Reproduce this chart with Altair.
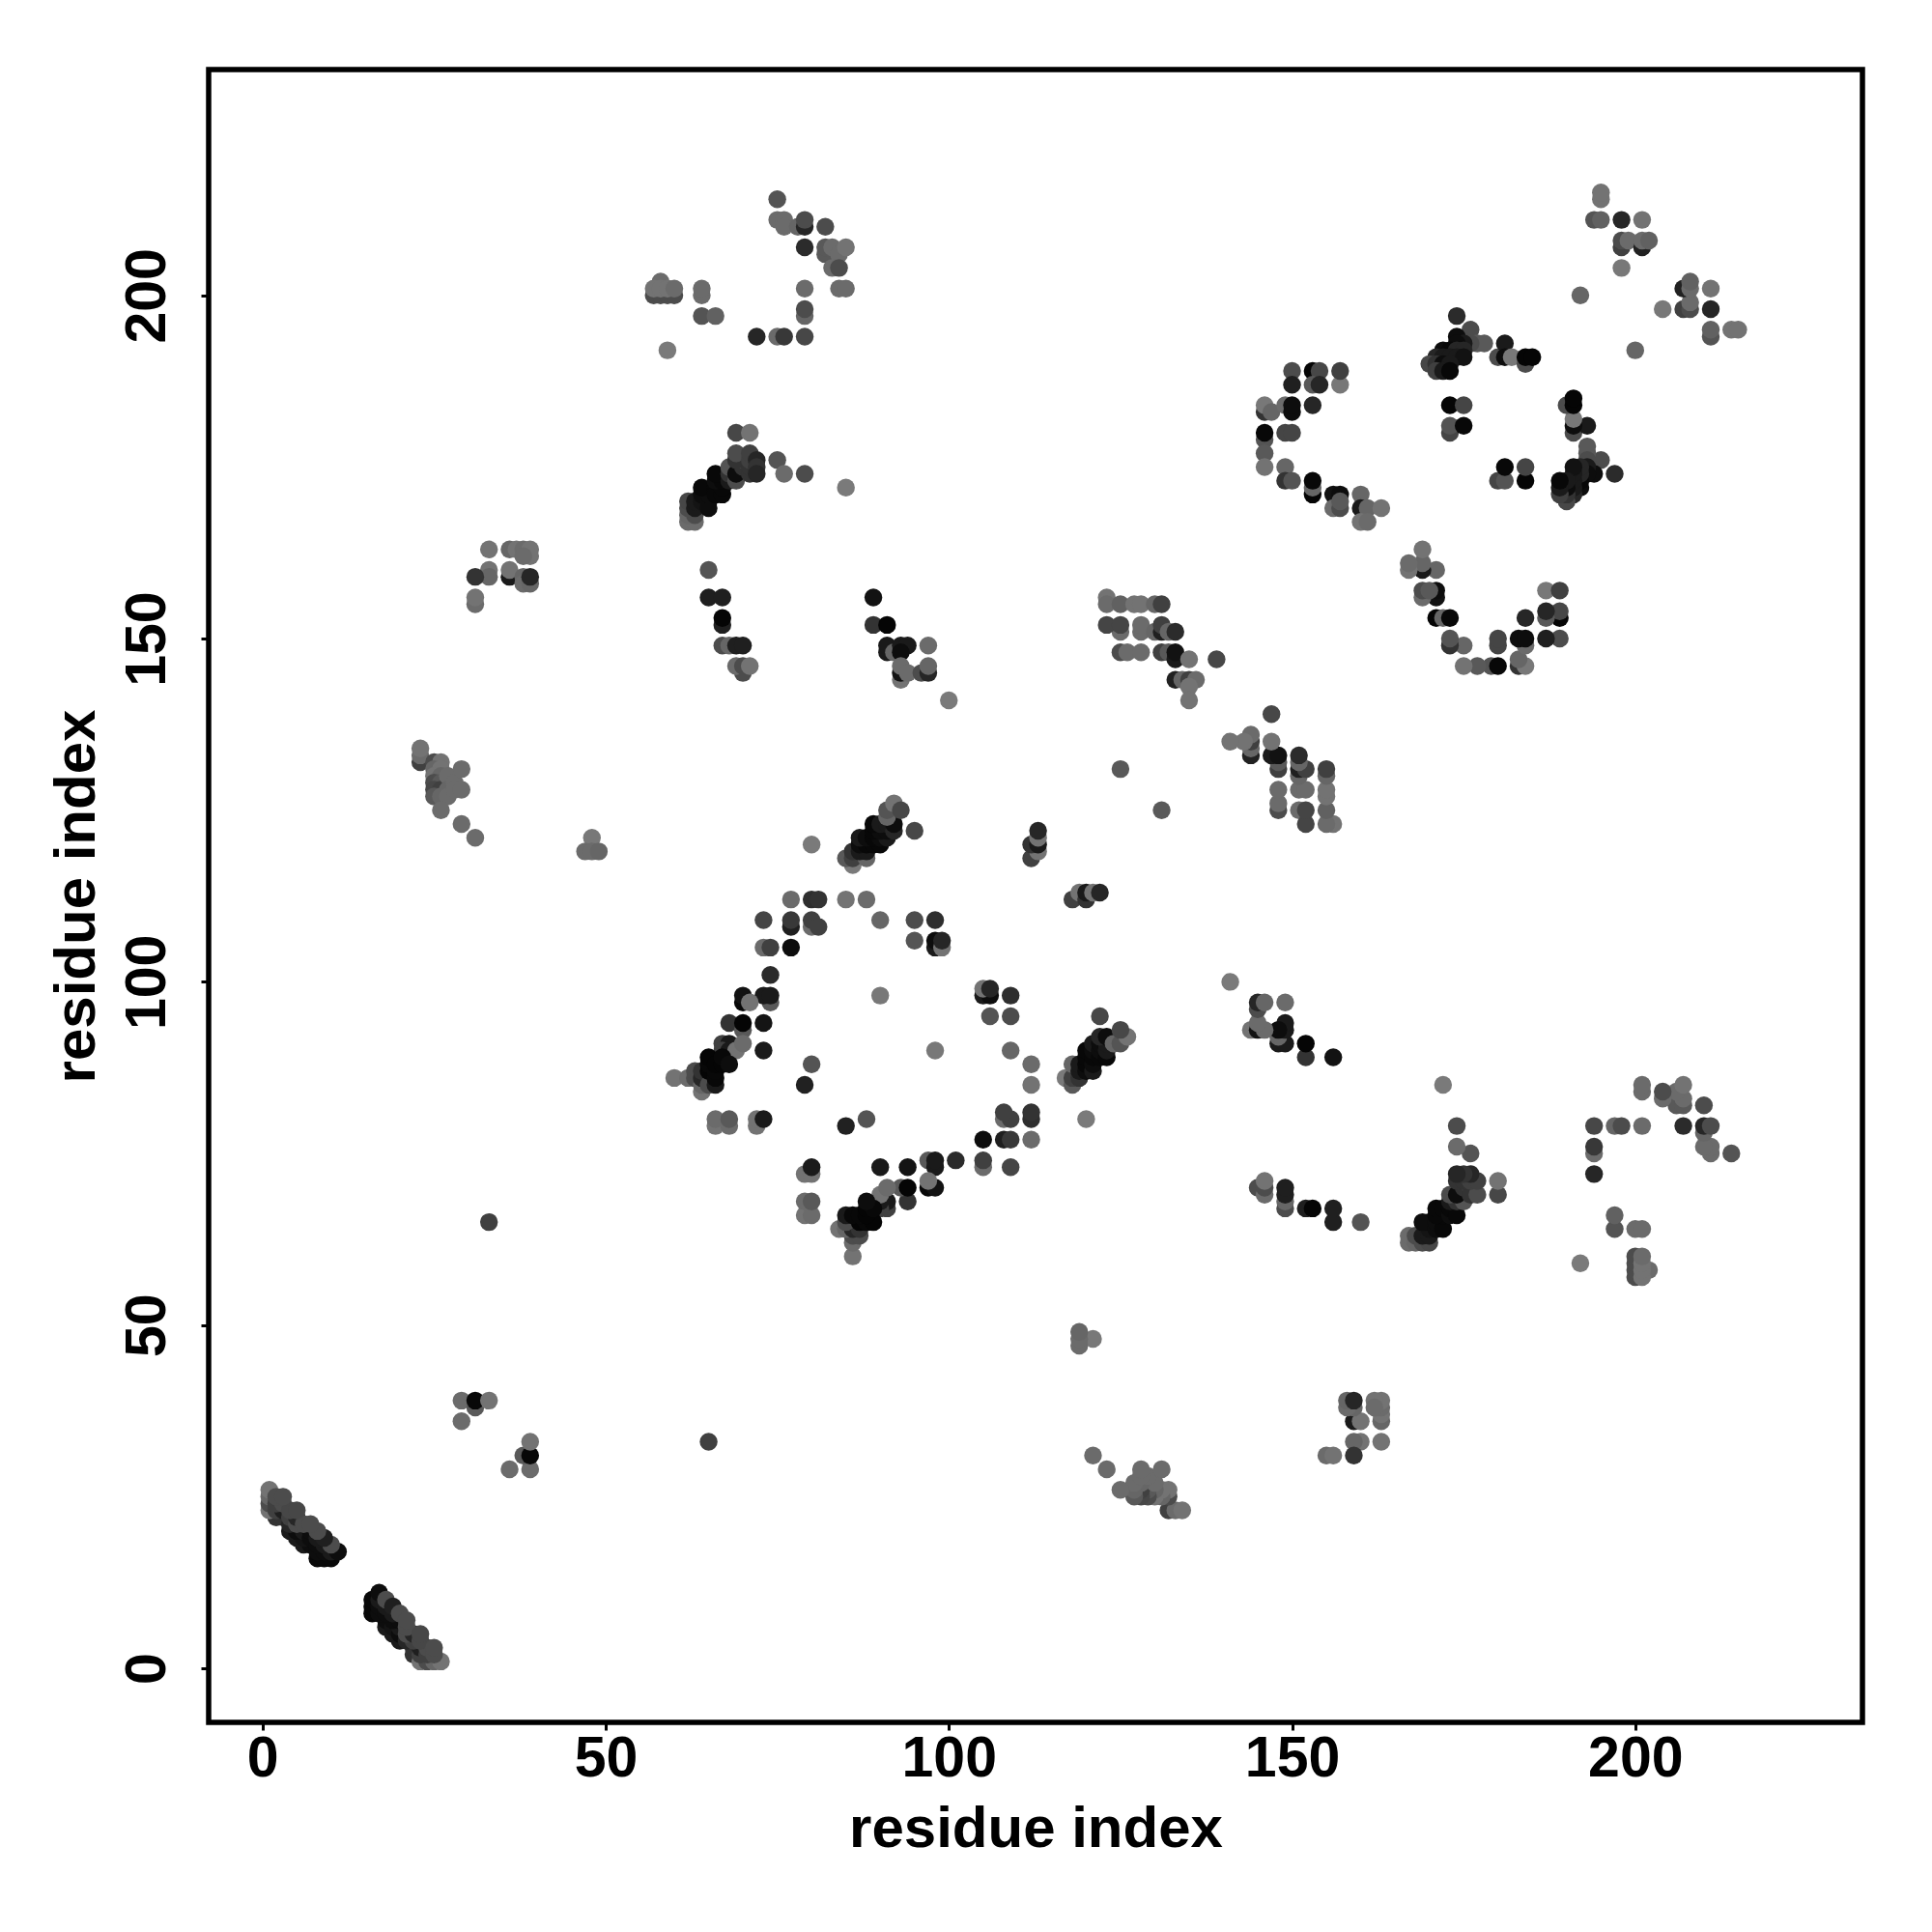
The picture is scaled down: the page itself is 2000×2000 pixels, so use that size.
import altair as alt
import pandas as pd

# contacts (i, j, gray level) read with i < j; the map is symmetric
helix_a = [(8,16,.03),(9,16,.03),(10,16,.03),(6,18,.1),(7,18,.05),(8,17,.05),(9,17,.05),(10,17,.1),(4,20,.1),(5,19,.1),(6,19,.08),(5,20,.05),(2,22,.2),(3,22,.2),
           (1,23,.45),(4,21,.15),(6,20,.1),(7,19,.05),(8,18,.05),(9,18,.1),(11,17,.05),(1,24,.3),(2,23,.25),(3,23,.12),(4,22,.25),(5,21,.3),(7,20,.05),(8,19,.1),(10,18,.3),
           (9,19,.12),(1,25,.4),(2,24,.25),(5,22,.15),(6,21,.3),(8,20,.3),(7,21,.3),(3,24,.3),(4,23,.28),(5,23,.28),(1,26,.45),(2,25,.3),(3,25,.3)]
group_30s = [(29,39,.42),(31,38,.35),(31,39,.03),(33,39,.45),(29,36,.42),(33,65,.25)]
group_160 = [(33,163,.45),(36,163,.4),(37,163,.45),(38,163,.42),(39,163,.45),(39,162,.45),(38,162,.42),(33,160,.45),(33,159,.4),(31,159,.2),
             (36,159,.1),(36,160,.45),(38,159,.4),(38,158,.42),(39,158,.4),(39,159,.15),(31,155,.42),(31,156,.45)]
group_130 = [(23,132,.25),(23,133,.42),(23,134,.45),(25,132,.3),(26,132,.45),(25,131,.4),(26,131,.45),(25,130,.45),(26,130,.4),(25,129,.3),(26,129,.35),
             (25,128,.28),(26,128,.25),(25,127,.35),(26,127,.4),(27,130,.42),(27,128,.4),(27,127,.42),(28,129,.42),(28,128,.42),(29,131,.42),(29,128,.42),
             (26,125,.42),(29,123,.42),(31,121,.42),(48,121,.47),(47,119,.42),(48,119,.42),(49,119,.4)]
group_200 = [(57,200,.3),(58,200,.3),(59,200,.3),(60,200,.3),(58,202,.42),(57,201,.45),(58,201,.45),(59,201,.45),(60,201,.42),(64,200,.42),(64,201,.42),
             (64,197,.33),(66,197,.38),(59,192,.48),(75,214,.33),(75,211,.42),(76,211,.42),(76,210,.42),(78,210,.4),(79,210,.15),(79,211,.3),(82,210,.3),
             (79,207,.17),(82,206,.35),(82,207,.35),(83,207,.42),(84,206,.42),(85,207,.45),(83,204,.42),(84,204,.3),(79,201,.42),(84,201,.42),(85,201,.42),
             (79,197,.4),(79,198,.3),(72,194,.15),(75,194,.42),(76,194,.22),(79,194,.28)]
group_170 = [(69,180,.28),(71,180,.45),(62,167,.42),(63,167,.42),(62,168,.4),(63,168,.3),(62,169,.3),(62,170,.28),(63,169,.1),(63,170,.1),(64,170,.08),(65,170,.05),(65,169,.05),
             (64,171,.05),(65,171,.05),(64,172,.03),(66,172,.03),(66,171,.03),(67,171,.03),(67,172,.03),(66,173,.05),(67,173,.03),(66,174,.03),(68,173,.1),(68,174,.2),(68,175,.33),(69,173,.3),(69,174,.05),
             (70,175,.2),(70,176,.25),(69,176,.2),(69,177,.3),(71,174,.2),(71,175,.2),(71,176,.25),(71,177,.25),(72,176,.15),(72,175,.2),(72,174,.15),(75,176,.33),(76,174,.42),(79,174,.3),(85,172,.48)]
group_150 = [(65,160,.33),(65,156,.12),(67,156,.12),(67,152,.12),(67,153,.02),(67,149,.3),(68,149,.4),(69,149,.12),(70,149,.12),(70,145,.3),(69,146,.42),
             (70,146,.3),(71,146,.45),(89,156,.07),(89,152,.2),(91,152,.02),(91,148,.1),(91,149,.1),(92,148,.4),(93,149,.1),(94,149,.1),(93,148,.05),(97,149,.42),
             (93,144,.45),(93,145,.07),(93,146,.42),(94,145,.42),(96,145,.3),(97,145,.15),(97,146,.4),(100,141,.48)]
group_100 = [(77,112,.42),(80,112,.18),(81,112,.2),(85,112,.45),(88,112,.42),(73,109,.27),(77,108,.12),(77,109,.22),(80,108,.42),(80,109,.25),(81,108,.25),
             (73,105,.42),(74,105,.25),(77,105,.05),(74,101,.17),(74,97,.35),(73,98,.1),(74,98,.1),(70,97,.03),(70,98,.07),(71,97,.45),(90,98,.47),
             (68,94,.2),(70,93,.35),(70,94,.02),(73,94,.08),(67,91,.25),(68,91,.1),(67,90,.25),(68,90,.1),(69,90,.45),(70,91,.42),(73,90,.1),(80,88,.33),(79,85,.13),
             (60,86,.45),(62,86,.42),(63,86,.3),(63,87,.3),(64,84,.45),(64,85,.4),(64,86,.15),(64,87,.2),(65,85,.3),(65,87,.02),(65,88,.03),(65,89,.02),(66,85,.1),(66,86,.03),(66,87,.03),(66,88,.02),(67,88,.02),(67,89,.03),(68,88,.05),
             (66,79,.45),(66,80,.42),(68,79,.42),(68,80,.35),(72,79,.45),(72,80,.45),(73,80,.1)]
group_120 = [(86,117,.48),(85,118,.35),(86,118,.25),(88,118,.4),(86,119,.2),(87,119,.1),(88,119,.1),(87,120,.05),(88,120,.03),(89,120,.03),(90,120,.03),(87,121,.1),(88,121,.05),(89,121,.03),(90,121,.05),(91,121,.1),
             (89,122,.03),(90,122,.05),(91,122,.05),(89,123,.03),(90,123,.1),(91,123,.1),(92,122,.15),(92,123,.05),(91,124,.4),(91,125,.33),(92,126,.45),(93,125,.28),(95,122,.28),(80,120,.48),
             (112,118,.25),(113,119,.45),(112,120,.2),(113,120,.1),(113,121,.45),(113,122,.15),(125,131,.35)]
group_109 = [(90,109,.4),(95,109,.3),(98,109,.18),(95,106,.33),(98,105,.1),(98,106,.05),(99,105,.45),(99,106,.15)]
group_155 = [(123,156,.45),(123,155,.42),(125,155,.38),(127,155,.45),(128,155,.45),(130,155,.4),(131,155,.25),(125,151,.42),(123,152,.27),(125,152,.27),(128,151,.42),(128,152,.42),
             (130,151,.4),(131,151,.12),(131,152,.25),(132,151,.4),(133,151,.17),(125,148,.3),(126,148,.42),(128,148,.42),(131,148,.25),(132,148,.35),(133,147,.1),(133,148,.07),
             (135,147,.45),(139,147,.28),(133,144,.13),(134,144,.4),(135,144,.25),(136,144,.42),(135,143,.45),(135,141,.45)]
group_180 = [(150,189,.3),(150,187,.12),(153,189,.02),(154,189,.28),(157,187,.47),(157,189,.25),(153,187,.35),(154,187,.15),(146,183,.2),(146,184,.47),(147,183,.4),
             (149,184,.42),(150,183,.05),(150,184,.05),(153,184,.15),(146,179,.33),(146,180,.03),(146,177,.35),(146,175,.45),(149,180,.27),(150,180,.27),(149,175,.4),
             (149,173,.2),(150,173,.33),(153,171,.02),(153,172,.4),(153,173,.03),(156,171,.07),(157,171,.05),(156,169,.42),(157,169,.3),(157,170,.35),
             (160,171,.4),(160,169,.1),(161,169,.4),(163,169,.45),(160,167,.45),(161,167,.42)]
group_190 = [(174,197,.17),(176,195,.3),(174,194,.05),(177,193,.35),(178,193,.35),(176,193,.3),(175,193,.1),(174,193,.05),(172,192,.05),(173,192,.03),(174,192,.15),(175,192,.15),(171,191,.15),(172,191,.1),(173,191,.1),(174,191,.1),(175,191,.07),
             (170,190,.28),(171,190,.2),(172,190,.05),(173,190,.1),(171,189,.25),(172,189,.1),(173,189,.03),(180,191,.3),(181,193,.1),(181,191,.05),(182,191,.47),(184,190,.3),(184,191,.02),(185,191,.02),
             (173,180,.27),(173,181,.33),(175,181,.03),(173,184,.02),(175,184,.27)]
group_210 = [(195,214,.45),(195,215,.45),(194,211,.33),(195,211,.38),(198,211,.15),(201,211,.45),(198,207,.25),(198,208,.3),(199,208,.42),(201,207,.13),(201,208,.42),(202,208,.38),(198,204,.47),(192,200,.4)]

contacts = (helix_a + group_30s + group_160 + group_130 + group_200 + group_170 + group_150
            + group_100 + group_120 + group_109 + group_155 + group_180 + group_190 + group_210)

tick_values = [0, 50, 100, 150, 200]
axis_title = "residue index"


def to_hex(level):
    v = round(level * 255)
    return f"#{v:02x}{v:02x}{v:02x}"


rows = []
for a, b, g in contacts:
    rows.append({"x": a, "y": b, "c": to_hex(g)})
    rows.append({"x": b, "y": a, "c": to_hex(g)})
df = pd.DataFrame(rows)

font = "Liberation Sans"


def make_axis(angle, **kw):
    return alt.Axis(values=tick_values, title=axis_title, grid=False, domain=False,
                    tickColor="black", tickWidth=3, tickSize=8,
                    labelFont=font, labelFontWeight="bold", labelFontSize=59, labelColor="black",
                    titleFont=font, titleFontWeight="bold", titleFontSize=60, titleColor="black",
                    labelAngle=angle, **kw)


chart = (
    alt.Chart(df)
    .mark_circle(size=340, opacity=1)
    .encode(
        x=alt.X("x:Q", scale=alt.Scale(domain=[-7.84, 233.1], nice=False, zero=False),
                axis=make_axis(0, labelPadding=0, titlePadding=14)),
        y=alt.Y("y:Q", scale=alt.Scale(domain=[-7.88, 232.9], nice=False, zero=False),
                axis=make_axis(270, labelAlign="center", labelBaseline="bottom", labelPadding=26, titlePadding=13)),
        color=alt.Color("c:N", scale=None, legend=None),
        order=alt.Order("idx:Q"),
    )
    .transform_window(idx="row_number()")
    .properties(width=1712, height=1711, padding={"left": 208, "top": 64, "right": 60, "bottom": 217},
                autosize=alt.AutoSizeParams(type="none"))
    .configure_view(stroke="black", strokeWidth=5.5)
)

chart.save("out.html", embed_options={"renderer": "svg", "actions": False})
